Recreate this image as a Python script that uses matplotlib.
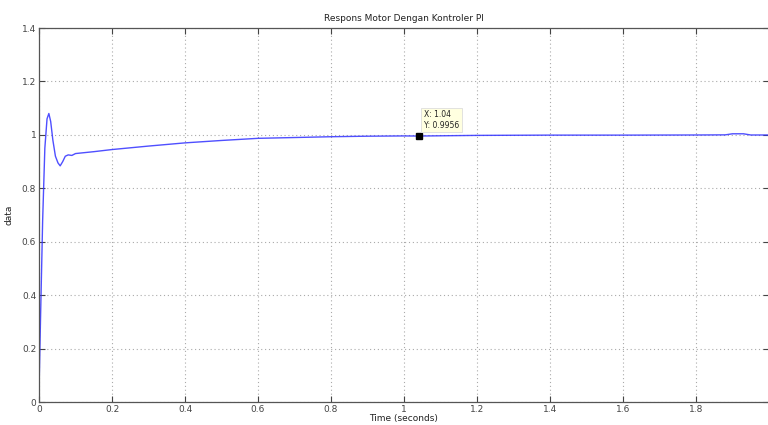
import numpy as np
import matplotlib.pyplot as plt

# %% Data
t = [0.0, 0.004, 0.01, 0.016, 0.022, 0.027, 0.032, 0.038, 0.045, 0.052, 0.058,
     0.065, 0.072, 0.08, 0.09, 0.1, 0.15, 0.2, 0.3, 0.4, 0.5, 0.6, 0.7,
     0.8, 0.9, 1.0, 1.04, 1.2, 1.4, 1.6, 1.8, 1.88, 1.9, 1.93, 1.95, 2.0]
y = [0.04, 0.3, 0.68, 0.95, 1.06, 1.08, 1.05, 0.98, 0.92, 0.895, 0.884,
     0.9, 0.92, 0.925, 0.923, 0.93, 0.937, 0.945, 0.958, 0.97, 0.979, 0.987, 0.99,
     0.993, 0.995, 0.996, 0.9956, 0.998, 0.999, 0.999, 0.9995, 1.0, 1.004, 1.004, 0.9995, 0.9995]

tip_x, tip_y = 1.04, 0.9956

title = 'Respons Motor Dengan Kontroler PI'
xlabel = 'Time (seconds)'
ylabel = 'data'

# %% Plot
plt.rcParams['font.family'] = 'DejaVu Sans'
fig = plt.figure(figsize=(7.68, 4.25), dpi=100)
ax = fig.add_axes([39/768, 23/425, 730/768, 374/425])

ax.plot(t, y, color='#3030ff', lw=1.0, alpha=0.85)
ax.plot([tip_x], [tip_y], 's', color='black', ms=4.5)
ax.annotate(f'X: {tip_x:.2f}\nY: {tip_y:.4f}', xy=(tip_x, tip_y), xytext=(4, 6),
            textcoords='offset points', fontsize=5.5, color='#222222',
            bbox=dict(boxstyle='square,pad=0.35', fc='#ffffe0', ec='#dddddd', lw=0.6))

ax.set_xlim(0, 2)
ax.set_ylim(0, 1.4)
ax.set_xticks(np.arange(0, 2.0, 0.2))
ax.set_xticklabels(['0', '0.2', '0.4', '0.6', '0.8', '1', '1.2', '1.4', '1.6', '1.8'])
ax.set_yticks(np.arange(0, 1.41, 0.2))
ax.set_yticklabels(['0', '0.2', '0.4', '0.6', '0.8', '1', '1.2', '1.4'])
ax.tick_params(direction='in', labelsize=6.5, length=4, width=0.8, colors='#444444',
               top=True, right=True, pad=2)
ax.grid(True, linestyle=(0, (1, 2.5)), color='#aaaaaa', lw=0.8)
for s in ax.spines.values():
    s.set_color('#555555')
    s.set_linewidth(0.9)

ax.set_title(title, fontsize=6.5, pad=5, color='#222222')
ax.set_xlabel(xlabel, fontsize=6.5, labelpad=0, color='#222222')
ax.set_ylabel(ylabel, fontsize=6.5, labelpad=6, color='#222222')

fig.savefig('out.png', dpi=100)
